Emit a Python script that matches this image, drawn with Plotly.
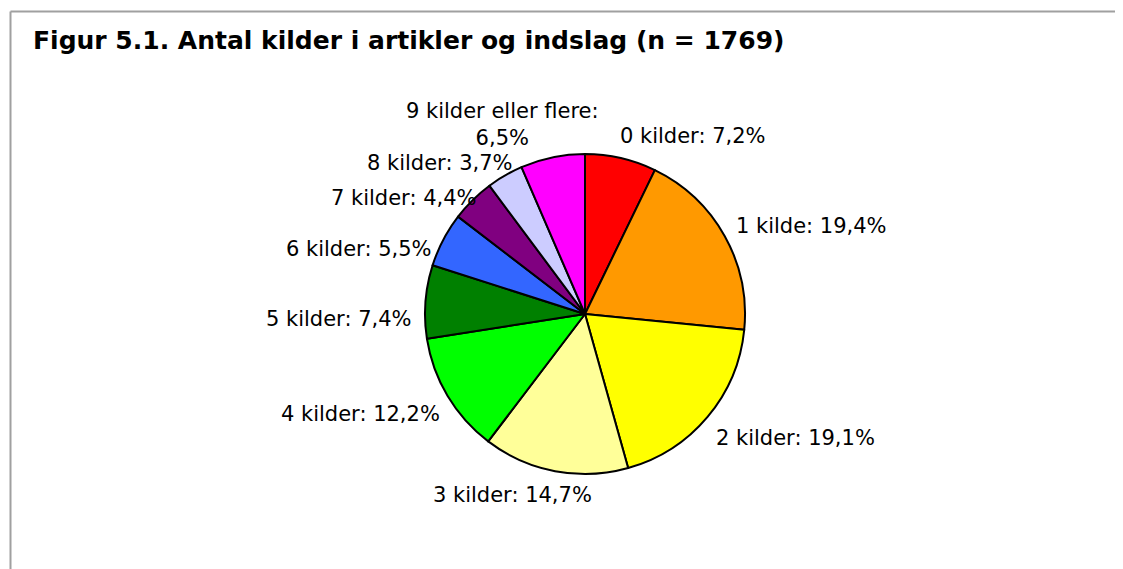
import math
import plotly.graph_objects as go

W, H = 1123, 569
OFF = 8  # browser body margin

labels = ["0 kilder", "1 kilde", "2 kilder", "3 kilder", "4 kilder",
          "5 kilder", "6 kilder", "7 kilder", "8 kilder", "9 kilder eller flere"]
values = [7.2, 19.4, 19.1, 14.7, 12.2, 7.4, 5.5, 4.4, 3.7, 6.5]
colors = ["#FF0000", "#FF9900", "#FFFF00", "#FFFF99", "#00FF00",
          "#008000", "#3366FF", "#800080", "#CCCCFF", "#FF00FF"]
title = "Figur 5.1. Antal kilder i artikler og indslag (n = 1769)"

# label placement style per slice: (xanchor, yanchor) and pixel nudges (dx right, dy down)
anchors = [("left", "bottom"), ("left", "middle"), ("left", "top"), ("center", "top"),
           ("right", "top"), ("right", "top"), ("right", "top"), ("right", "middle"),
           ("right", "bottom"), ("center", "bottom")]
nudges = [(-6, 7), (-4, -3), (-5, -3), (-40, -5), (7, -4),
          (2, 4), (3, 2), (16, 9), (17, 15), (-47, 9)]

def fmt(v):
    return f"{v:.1f}".replace(".", ",") + "%"

texts = []
for l, v in zip(labels, values):
    sep = ":<br>" if "flere" in l else ": "
    texts.append(l + sep + fmt(v))

cx, cy, r = 585 - OFF, 314 - OFF, 160
R_LABEL = r + 15

fig = go.Figure(go.Pie(
    labels=labels, values=values, text=texts,
    textinfo="none",
    sort=False, direction="clockwise", rotation=0,
    marker=dict(colors=colors, line=dict(color="black", width=2)),
    domain=dict(x=[(cx - r) / W, (cx + r) / W], y=[(H - cy - r) / H, (H - cy + r) / H]),
    showlegend=False, hoverinfo="text",
))

total = sum(values)
annotations = []
cum = 0.0
for t, v, (xa, ya), (dx, dy) in zip(texts, values, anchors, nudges):
    theta = 2 * math.pi * (cum + v / 2) / total
    cum += v
    px = cx + R_LABEL * math.sin(theta)
    py = cy - R_LABEL * math.cos(theta)
    annotations.append(dict(
        x=px / W, y=1 - py / H, xref="paper", yref="paper",
        text=t, showarrow=False, xanchor=xa, yanchor=ya, align="center",
        xshift=dx, yshift=-dy,
        font=dict(family="DejaVu Sans", size=21, color="black"),
    ))

fig.update_layout(
    width=W, height=H,
    margin=dict(l=0, r=0, t=0, b=0),
    paper_bgcolor="white", plot_bgcolor="white",
    title=dict(text="<b>" + title + "</b>", x=(33 - OFF) / W, xanchor="left",
               y=1 - (40 - OFF) / H, yanchor="middle",
               font=dict(family="DejaVu Sans", size=25, color="black")),
    annotations=annotations,
    shapes=[
        dict(type="line", xref="paper", yref="paper",
             x0=(10.5 - OFF) / W, x1=1, y0=1 - (11.5 - OFF) / H, y1=1 - (11.5 - OFF) / H,
             line=dict(color="#A0A0A0", width=2)),
        dict(type="line", xref="paper", yref="paper",
             x0=(10.5 - OFF) / W, x1=(10.5 - OFF) / W, y0=0, y1=1 - (11.5 - OFF) / H,
             line=dict(color="#A0A0A0", width=2)),
    ],
)

fig.write_html("out.html")
